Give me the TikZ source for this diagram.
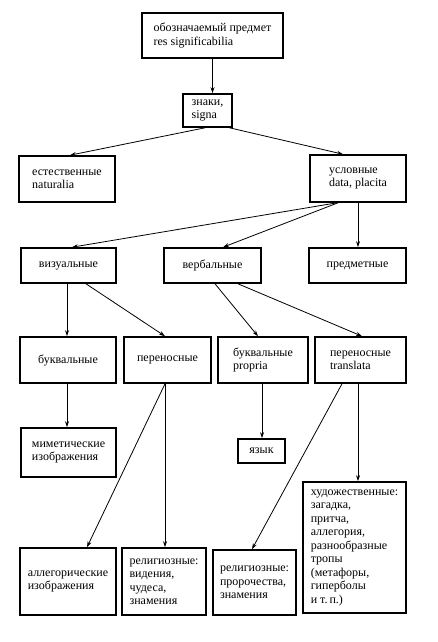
\documentclass[tikz,border=0pt]{standalone}
\usepackage{fontspec}
\setmainfont{Liberation Serif}
\usetikzlibrary{arrows.meta}
\tikzset{
  bx/.style={draw, line width=1.6pt, align=left, inner sep=0pt, font=\fontsize{12}{13.5}\selectfont},
  arr/.style={line width=0.8pt, -{Stealth[length=6pt,width=4pt]}}
}
\begin{document}
\begin{tikzpicture}[x=1pt,y=-1pt]
\useasboundingbox (0,0) rectangle (438,642);
\node[bx, minimum width=141pt, minimum height=45pt] (top) at (212.5,35.5) {обозначаемый предмет\\res significabilia};
\node[bx, minimum width=49pt, minimum height=33pt] (znaki) at (207.5,110.5) {знаки,\\signa};
\node[bx, minimum width=96pt, minimum height=46pt] (estest) at (67,179) {естественные\\naturalia};
\node[bx, minimum width=96pt, minimum height=47pt] (uslov) at (358,178.5) {условные\\data, placita};
\node[bx, minimum width=95pt, minimum height=35pt] (vizual) at (68.5,265.5) {визуальные};
\node[bx, minimum width=97pt, minimum height=35pt] (verbal) at (212.5,265.5) {вербальные};
\node[bx, minimum width=97pt, minimum height=35pt] (predmet) at (357.5,265.5) {предметные};
\node[bx, minimum width=96pt, minimum height=46pt] (bukv) at (68,360) {буквальные};
\node[bx, minimum width=87pt, minimum height=46pt] (peren) at (167.5,360) {переносные};
\node[bx, minimum width=90pt, minimum height=46pt] (propria) at (263,360) {буквальные\\propria};
\node[bx, minimum width=91pt, minimum height=46pt] (transl) at (360.5,360) {переносные\\translata};
\node[bx, minimum width=95pt, minimum height=49pt] (mimet) at (68.5,452.5) {миметические\\изображения};
\node[bx, minimum width=47pt, minimum height=24pt] (yazyk) at (261.5,451) {язык};
\node[bx, minimum width=103pt, minimum height=131pt] (khud) at (354.5,547.5) {художественные:\\загадка,\\притча,\\аллегория,\\разнообразные\\тропы\\(метафоры,\\гиперболы\\и т.\,п.)};
\node[bx, minimum width=96pt, minimum height=67pt] (alleg) at (68,581.5) {аллегорические\\изображения};
\node[bx, minimum width=84pt, minimum height=67pt] (relig) at (164,581.5) {религиозные:\\видения,\\чудеса,\\знамения};
\node[bx, minimum width=83pt, minimum height=65pt] (religb) at (254.5,582.5) {религиозные:\\пророчества,\\знамения};

\draw[arr] (top.south) -- (top.south |- znaki.north);
\draw[arr] ([xshift=-2.5pt]znaki.south) -- ([xshift=3pt]estest.north);
\draw[arr] ([xshift=22pt]znaki.south) -- ([xshift=-15pt]uslov.north);
\draw[arr] ([xshift=-21pt]uslov.south) -- ([xshift=3.5pt]vizual.north);
\draw[arr] ([xshift=-20pt]uslov.south) -- ([xshift=10.5pt]verbal.north);
\draw[arr] (uslov.south) -- (uslov.south |- predmet.north);
\draw[arr] ([xshift=-1.5pt]vizual.south) -- ([xshift=-1pt]bukv.north);
\draw[arr] ([xshift=17.5pt]vizual.south) -- ([xshift=-2.5pt]peren.north);
\draw[arr] ([xshift=2.5pt]verbal.south) -- ([xshift=-5pt]propria.north);
\draw[arr] ([xshift=25.5pt]verbal.south) -- ([xshift=1.5pt]transl.north);
\draw[arr] ([xshift=-1pt]bukv.south) -- ([xshift=-1.5pt]mimet.north);
\draw[arr] ([xshift=-2.5pt]peren.south) -- ([xshift=19pt]alleg.north);
\draw[arr] ([xshift=-2.5pt]peren.south) -- ([xshift=1pt]relig.north);
\draw[arr] ([xshift=-1pt]propria.south) -- ([xshift=0.5pt]yazyk.north);
\draw[arr] ([xshift=-18.5pt]transl.south) -- ([xshift=-2.5pt]religb.north);
\draw[arr] ([xshift=-2.5pt]transl.south) -- ([xshift=3.5pt]khud.north);
\end{tikzpicture}
\end{document}
